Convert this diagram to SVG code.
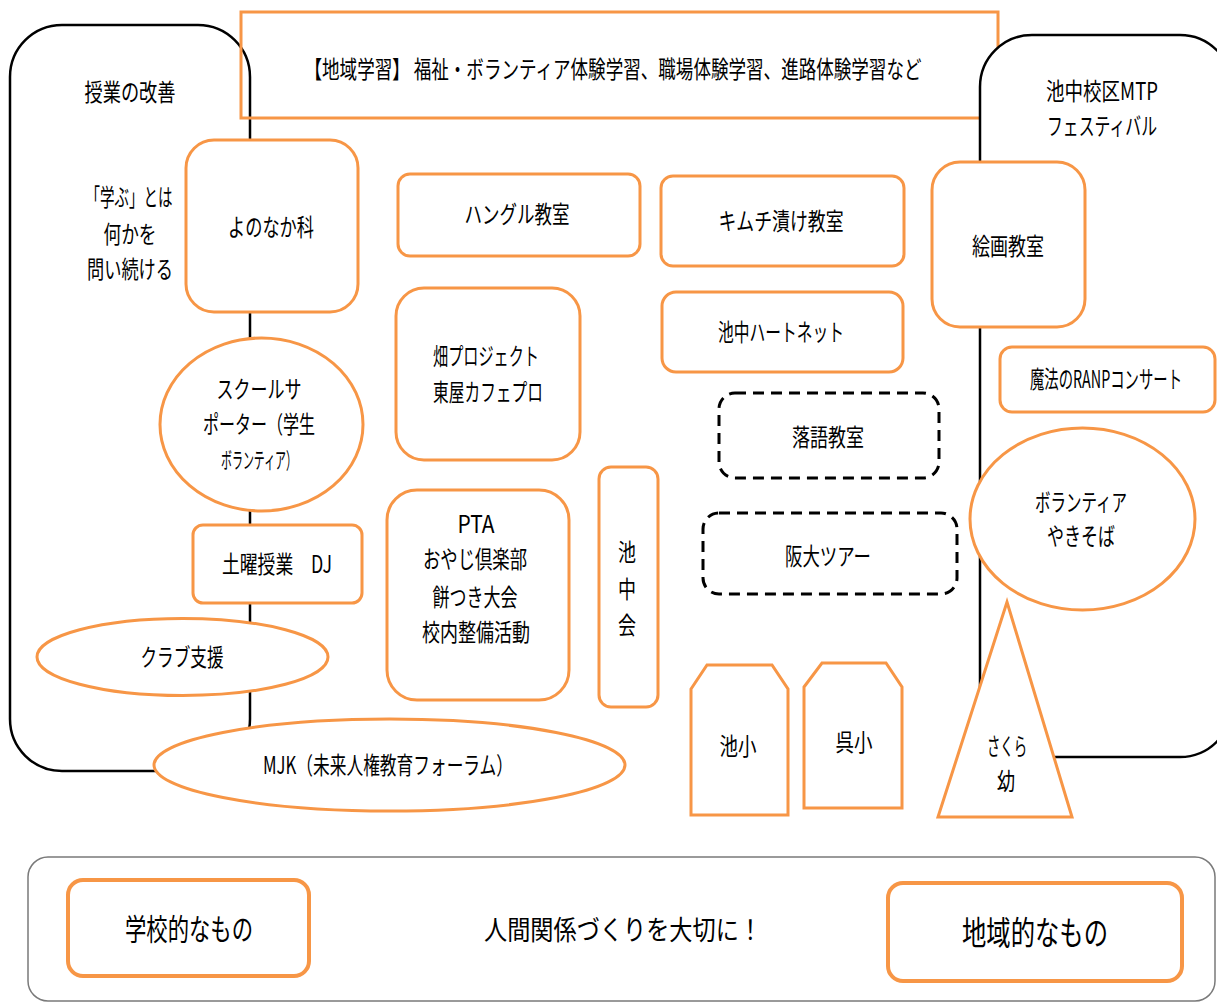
<svg xmlns="http://www.w3.org/2000/svg" width="1217" height="1005" viewBox="0 0 1217 1005">
<style>
.o{fill:#fff;stroke:#F79646;stroke-width:3}
.ob{fill:#fff;stroke:#F79646;stroke-width:4}
.k{fill:#fff;stroke:#000;stroke-width:2.5}
.d{fill:#fff;stroke:#000;stroke-width:3;stroke-dasharray:11 7}
text{font-family:"Noto Sans CJK JP","Noto Sans CJK SC",sans-serif;font-size:24px;fill:#000;text-anchor:middle;dominant-baseline:central}
.s{font-size:22px}
</style>
<rect width="1217" height="1005" fill="#fff"/>
<g id="left-container">
<rect class="k" x="10" y="25" width="240" height="746" rx="52"/>
<text x="130" y="90" textLength="91" lengthAdjust="spacingAndGlyphs">授業の改善</text>
<text x="129" y="195" textLength="87" lengthAdjust="spacingAndGlyphs">「学ぶ」とは</text>
<text x="130" y="232" textLength="53" lengthAdjust="spacingAndGlyphs">何かを</text>
<text x="130" y="267" textLength="86" lengthAdjust="spacingAndGlyphs">問い続ける</text>
</g>
<g id="banner">
<rect x="241" y="12" width="757" height="106" fill="none" stroke="#F79646" stroke-width="3"/>
<text x="613" y="67" textLength="617" lengthAdjust="spacingAndGlyphs">【地域学習】 福祉・ボランティア体験学習、職場体験学習、進路体験学習など</text>
</g>
<g id="right-container">
<rect class="k" x="980" y="35" width="252" height="722" rx="52"/>
<text x="1102" y="89" textLength="112" lengthAdjust="spacingAndGlyphs">池中校区MTP</text>
<text x="1102" y="124" textLength="110" lengthAdjust="spacingAndGlyphs">フェスティバル</text>
</g>
<g id="connectors"></g>
<g id="yononaka">
<rect class="o" x="186" y="140" width="172" height="172" rx="28"/>
<text x="271" y="225" textLength="86" lengthAdjust="spacingAndGlyphs">よのなか科</text>
</g>
<g id="hangul">
<rect class="o" x="398" y="174" width="242" height="82" rx="12"/>
<text x="517" y="212" textLength="105" lengthAdjust="spacingAndGlyphs">ハングル教室</text>
</g>
<g id="kimchi">
<rect class="o" x="661" y="176" width="243" height="90" rx="12"/>
<text x="781" y="219" textLength="125" lengthAdjust="spacingAndGlyphs">キムチ漬け教室</text>
</g>
<g id="kaiga">
<rect class="o" x="932" y="162" width="153" height="165" rx="28"/>
<text x="1008" y="244" textLength="72" lengthAdjust="spacingAndGlyphs">絵画教室</text>
</g>
<g id="heartnet">
<rect class="o" x="662" y="292" width="241" height="80" rx="14"/>
<text x="781" y="330" textLength="126" lengthAdjust="spacingAndGlyphs">池中ハートネット</text>
</g>
<g id="mahou">
<rect class="o" x="1000" y="347" width="215" height="65" rx="12"/>
<text x="1106" y="377" textLength="152" lengthAdjust="spacingAndGlyphs">魔法のRANPコンサート</text>
</g>
<g id="hatake">
<rect class="o" x="396" y="288" width="184" height="172" rx="28"/>
<text x="486" y="354" textLength="106" lengthAdjust="spacingAndGlyphs">畑プロジェクト</text>
<text x="488" y="390" textLength="110" lengthAdjust="spacingAndGlyphs">東屋カフェプロ</text>
</g>
<g id="school-supporter">
<ellipse class="o" cx="261.5" cy="424.5" rx="101.5" ry="86.5"/>
<text x="259" y="387" textLength="85" lengthAdjust="spacingAndGlyphs">スクールサ</text>
<text x="259" y="422" textLength="112" lengthAdjust="spacingAndGlyphs">ポーター（学生</text>
<text class="s" x="259" y="458" textLength="76" lengthAdjust="spacingAndGlyphs">ボランティア）</text>
</g>
<g id="rakugo">
<rect class="d" x="719" y="393" width="220" height="85" rx="16"/>
<text x="828" y="435" textLength="72" lengthAdjust="spacingAndGlyphs">落語教室</text>
</g>
<g id="handai">
<rect class="d" x="703" y="513" width="254" height="81" rx="16"/>
<text x="828" y="554" textLength="86" lengthAdjust="spacingAndGlyphs">阪大ツアー</text>
</g>
<g id="ikechukai">
<rect class="o" x="599" y="467" width="59" height="240" rx="12"/>
<text x="627" y="550" textLength="18" lengthAdjust="spacingAndGlyphs">池</text>
<text x="627" y="587" textLength="18" lengthAdjust="spacingAndGlyphs">中</text>
<text x="627" y="623" textLength="18" lengthAdjust="spacingAndGlyphs">会</text>
</g>
<g id="doyou">
<rect class="o" x="193" y="525" width="169" height="78" rx="10"/>
<text x="277" y="562" textLength="110" lengthAdjust="spacingAndGlyphs">土曜授業　DJ</text>
</g>
<g id="pta">
<rect class="o" x="387" y="490" width="182" height="210" rx="30"/>
<text x="476" y="522" textLength="37" lengthAdjust="spacingAndGlyphs">PTA</text>
<text x="475" y="557" textLength="104" lengthAdjust="spacingAndGlyphs">おやじ倶楽部</text>
<text x="475" y="595" textLength="85" lengthAdjust="spacingAndGlyphs">餅つき大会</text>
<text x="476" y="630" textLength="108" lengthAdjust="spacingAndGlyphs">校内整備活動</text>
</g>
<g id="club">
<ellipse class="o" cx="182.5" cy="657" rx="145.5" ry="38.5"/>
<text x="182" y="655" textLength="83" lengthAdjust="spacingAndGlyphs">クラブ支援</text>
</g>
<g id="mjk">
<ellipse class="o" cx="389.5" cy="765" rx="235.5" ry="46"/>
<text x="388" y="763" textLength="250" lengthAdjust="spacingAndGlyphs">MJK（未来人権教育フォーラム）</text>
</g>
<g id="ikesho">
<polygon class="o" points="691,689 707,665 772,665 788,689 788,815 691,815"/>
<text x="738" y="744" textLength="37" lengthAdjust="spacingAndGlyphs">池小</text>
</g>
<g id="kuresho">
<polygon class="o" points="804,687 822,663 886,663 902,687 902,808 804,808"/>
<text x="854" y="740" textLength="37" lengthAdjust="spacingAndGlyphs">呉小</text>
</g>
<g id="yakisoba">
<ellipse class="o" cx="1082.5" cy="519" rx="112.5" ry="91"/>
<text x="1081" y="500" textLength="92" lengthAdjust="spacingAndGlyphs">ボランティア</text>
<text x="1081" y="534" textLength="68" lengthAdjust="spacingAndGlyphs">やきそば</text>
</g>
<g id="sakura">
<polygon class="o" points="1007,602 1072,817 938,817"/>
<text x="1007" y="744" textLength="40" lengthAdjust="spacingAndGlyphs">さくら</text>
<text x="1006" y="779" textLength="18" lengthAdjust="spacingAndGlyphs">幼</text>
</g>
<g id="bottom">
<rect x="28" y="857" width="1187" height="144" rx="20" fill="#fff" stroke="#7a7a7a" stroke-width="1.5"/>
<text x="623" y="928" style="font-size:27px" textLength="278" lengthAdjust="spacingAndGlyphs">人間関係づくりを大切に！</text>
</g>
<g id="gakkou">
<rect class="ob" x="68" y="880" width="241" height="96" rx="15"/>
<text x="189" y="927" style="font-size:30px" textLength="128" lengthAdjust="spacingAndGlyphs">学校的なもの</text>
</g>
<g id="chiiki">
<rect class="ob" x="888" y="883" width="294" height="98" rx="15"/>
<text x="1035" y="931" style="font-size:33px" textLength="146" lengthAdjust="spacingAndGlyphs">地域的なもの</text>
</g>
</svg>
